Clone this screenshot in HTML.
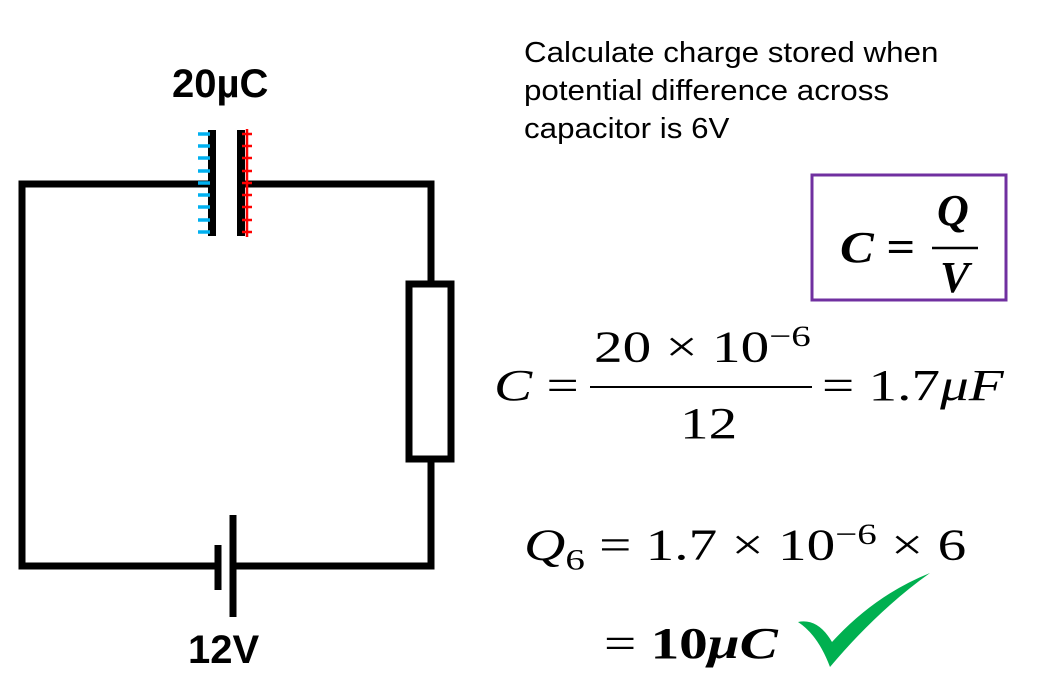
<!DOCTYPE html>
<html><head><style>
body{margin:0;width:1040px;height:692px;background:#fff;overflow:hidden;position:relative;font-family:"Liberation Sans",sans-serif}
.t{position:absolute;white-space:nowrap}
.m{font-family:"Liberation Serif",serif;font-size:44px;color:#000;transform-origin:0 0}
.w{transform:scaleX(1.3)}
i{font-style:italic}
</style></head><body>
<svg width="1040" height="692" style="position:absolute;left:0;top:0">
<g stroke="#000" stroke-width="7" fill="none">
<path d="M211,184 H22 V566 H217"/>
<path d="M233,566 H431 V460"/>
<path d="M431,283 V184 H242"/>
<rect x="409" y="284" width="42" height="175" fill="#fff"/>
<line x1="212" y1="130" x2="212" y2="236" stroke-width="8"/>
<line x1="241" y1="130" x2="241" y2="236" stroke-width="8"/>
<line x1="218" y1="545" x2="218" y2="590"/>
<line x1="233" y1="515" x2="233" y2="617"/>
</g>
<g stroke="#00b0f0" stroke-width="3.5">
<path d="M198,134h12M198,146h12M198,158h12M198,171h12M198,183h12M198,195h12M198,207h12M198,220h12M198,232h12"/>
</g>
<g stroke="#ff0000" stroke-width="2.5">
<path d="M242,134h10M242,146h10M242,158h10M242,171h10M242,183h10M242,195h10M242,207h10M242,220h10M242,232h10"/>
<path d="M247,129v108"/>
</g>
<rect x="812" y="175" width="194" height="125" fill="none" stroke="#7030a0" stroke-width="3"/>
<line x1="590" y1="387" x2="812" y2="387" stroke="#000" stroke-width="2"/>
<line x1="932" y1="248" x2="978" y2="248" stroke="#000" stroke-width="2.5"/>
<path d="M798,622 Q818,618 832,642 Q875,595 930,573 Q878,610 830,667 Q818,635 798,622Z" fill="#00b050"/>
</svg>
<div class="t" style="left:172px;top:62px;font-size:40px;font-weight:bold">20µC</div>
<div class="t" style="left:188px;top:628px;font-size:40px;font-weight:bold">12V</div>
<div class="t" style="left:524px;top:34px;font-size:29px;line-height:38px;transform:scaleX(1.08);transform-origin:0 0">Calculate charge stored when<br>potential difference across<br>capacitor is 6V</div>
<div class="t m" style="left:840px;top:222px;font-weight:bold;transform:scaleX(1.15)"><i>C</i> =</div>
<div class="t m" style="left:937px;top:185px;font-weight:bold"><i>Q</i></div>
<div class="t m" style="left:940px;top:252px;font-weight:bold"><i>V</i></div>
<div class="t m w" style="left:494px;top:360px"><i>C</i> =</div>
<div class="t m w" style="left:594px;top:320px">20 × 10<sup style="font-size:30px">−6</sup></div>
<div class="t m w" style="left:680px;top:398px">12</div>
<div class="t m w" style="left:822px;top:360px">= 1.7<i>μF</i></div>
<div class="t m w" style="left:524px;top:518px"><i>Q</i><sub style="font-size:30px">6</sub> = 1.7 × 10<sup style="font-size:30px">−6</sup> × 6</div>
<div class="t m w" style="left:604px;top:618px">= <b>10<i>μC</i></b></div>
</body></html>
